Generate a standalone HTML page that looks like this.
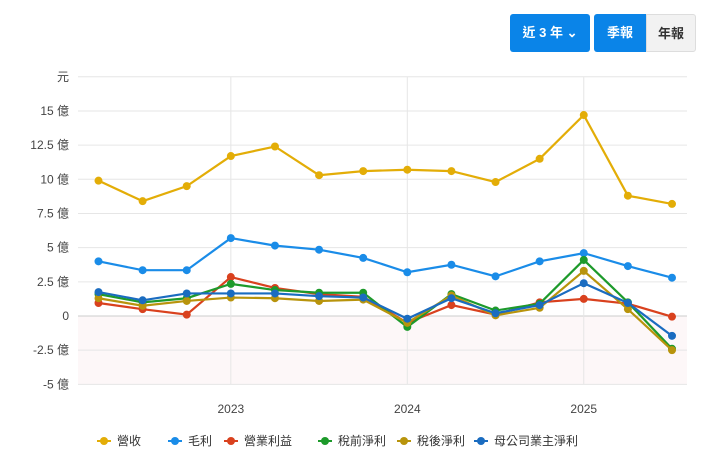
<!DOCTYPE html>
<html><head><meta charset="utf-8"><style>
body{margin:0;width:712px;height:463px;background:#fff;font-family:"Liberation Sans","Noto Sans CJK TC",sans-serif;overflow:hidden;position:relative}
.btn{position:absolute;top:14px;height:38px;line-height:38px;font-size:13px;font-weight:bold;text-align:center;border-radius:3px}
</style></head><body>
<div class="btn" style="left:510px;width:80px;background:#0a84e8;color:#fff">近 3 年 ⌄</div>
<div class="btn" style="left:594px;width:52px;background:#0a84e8;color:#fff;border-radius:3px 0 0 3px">季報</div>
<div class="btn" style="left:646px;width:50px;background:#f2f2f2;color:#333;border:1px solid #ddd;box-sizing:border-box;border-radius:0 3px 3px 0">年報</div>
<svg id="c" width="712" height="463" style="position:absolute;left:0;top:0"></svg>
<script>
const categories=["2022Q2","2022Q3","2022Q4","2023Q1","2023Q2","2023Q3","2023Q4","2024Q1","2024Q2","2024Q3","2024Q4","2025Q1","2025Q2","2025Q3"];
const seriesNames=["營收","毛利","營業利益","稅前淨利","稅後淨利","母公司業主淨利"];
const revenue=[9.9,8.4,9.5,11.7,12.4,10.3,10.6,10.7,10.6,9.8,11.5,14.7,8.8,8.2];
const grossProfit=[4.0,3.35,3.35,5.7,5.15,4.85,4.25,3.2,3.75,2.9,4.0,4.6,3.65,2.8];
const operatingIncome=[0.95,0.5,0.1,2.85,2.05,1.6,1.4,-0.5,0.8,0.1,1.0,1.25,0.9,-0.05];
const preTaxIncome=[1.6,1.0,1.3,2.35,1.9,1.7,1.7,-0.8,1.6,0.4,0.9,4.1,1.0,-2.4];
const netIncome=[1.3,0.75,1.1,1.35,1.3,1.1,1.2,-0.5,1.5,0.05,0.6,3.3,0.5,-2.5];
const parentNetIncome=[1.75,1.15,1.65,1.65,1.65,1.45,1.35,-0.2,1.3,0.2,0.8,2.4,0.95,-1.45];
const yTicks=[-5,-2.5,0,2.5,5,7.5,10,12.5,15];
const yTickLabels=["-5 億","-2.5 億","0","2.5 億","5 億","7.5 億","10 億","12.5 億","15 億"];
const xYearLabels=["2023","2024","2025"];
const xYearIndex=[3,7,11];
const colors=["#e3ad07","#1a8ce8","#d9411e","#1d9a2b","#b8940c","#1a6cc0"];
const data=[revenue,grossProfit,operatingIncome,preTaxIncome,netIncome,parentNetIncome];
const L=78,R=687;
const y=v=>316-v*13.67;
const x=i=>98.5+i*(672-98.5)/13;
const s=document.getElementById('c');const NS="http://www.w3.org/2000/svg";
function mk(t,a,p){const e=document.createElementNS(NS,t);for(const k in a)e.setAttribute(k,a[k]);(p||s).appendChild(e);return e;}
let e=mk('rect',{x:L,y:y(0),width:R-L,height:y(-5)-y(0),fill:'#fdf7f8'});


[17.5].concat(yTicks).forEach(v=>{const g=mk('line',{x1:L,x2:R,y1:y(v),y2:y(v),stroke:v===0?'#ccc':'#e6e6e6'});

});
xYearIndex.forEach((i,k)=>{const g=mk('line',{x1:x(i),x2:x(i),y1:y(17.5),y2:y(-5),stroke:'#e6e6e6'});


const t=mk('text',{x:x(i),y:413,'font-size':12,fill:'#444','text-anchor':'middle'});t.textContent=xYearLabels[k];

});
yTicks.forEach((v,k)=>{const t=mk('text',{x:69,y:y(v)+4,'font-size':12,fill:'#444','text-anchor':'end'});t.textContent=yTickLabels[k];

});
const u=mk('text',{x:69,y:y(17.5)+4,'font-size':12,fill:'#444','text-anchor':'end'});u.textContent='元';


data.forEach((d,si)=>{const p=mk('polyline',{points:d.map((v,i)=>x(i)+','+y(v)).join(' '),fill:'none',stroke:colors[si],'stroke-width':2.2});


d.forEach((v,i)=>{const c=mk('circle',{cx:x(i),cy:y(v),r:4,fill:colors[si]});

});});
let lx=[97,168,224,318,397,474];
seriesNames.forEach((n,i)=>{const g=mk('g',{});


mk('line',{x1:lx[i],x2:lx[i]+14,y1:441,y2:441,stroke:colors[i],'stroke-width':2},g);
mk('circle',{cx:lx[i]+7,cy:441,r:4,fill:colors[i]},g);
const t=mk('text',{x:lx[i]+20,y:445,'font-size':12,fill:'#333'},g);t.textContent=n;});
</script>
</body></html>
